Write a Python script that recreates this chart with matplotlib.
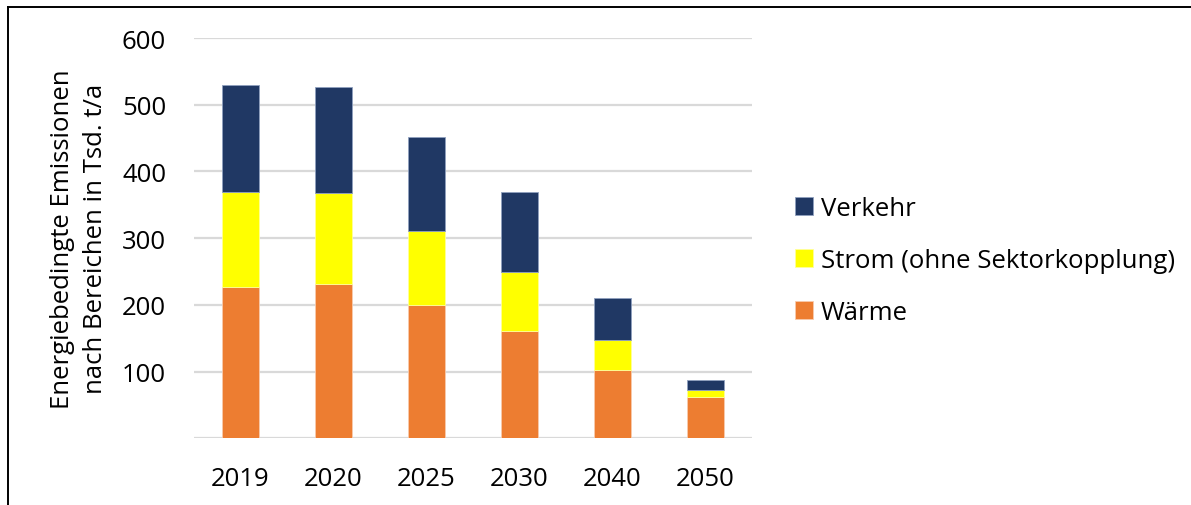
import matplotlib
matplotlib.use("Agg")
import matplotlib.pyplot as plt
from matplotlib.lines import Line2D
import numpy as np

years = ["2019", "2020", "2025", "2030", "2040", "2050"]
waerme = [227, 231, 200, 161, 102, 62]
strom = [142, 137, 111, 88, 45, 10]
verkehr = [161, 158, 141, 120, 63, 16]

plt.rcParams["font.family"] = ["Open Sans", "DejaVu Sans"]
FS = 18.5

fig = plt.figure(figsize=(11.91, 5.06), dpi=100)
ax = fig.add_axes([0.1629, 0.1318, 0.4685, 0.7911])

x = np.arange(len(years))
w = 0.4
b1 = ax.bar(x, waerme, w, color="#ED7D31", edgecolor="#F8CBAD", linewidth=0.6, label="Wärme", zorder=3)
b2 = ax.bar(x, strom, w, bottom=waerme, color="#FFFF00", edgecolor="#FFFF99", linewidth=0.6,
            label="Strom (ohne Sektorkopplung)", zorder=3)
bottom2 = np.array(waerme) + np.array(strom)
b3 = ax.bar(x, verkehr, w, bottom=bottom2, color="#203864", edgecolor="#8FA0BF", linewidth=0.6,
            label="Verkehr", zorder=3)

ax.set_xlim(-0.5, len(years) - 0.5)
ax.set_ylim(0, 600)
ax.set_yticks([0, 100, 200, 300, 400, 500, 600])
ax.set_yticklabels(["", "100", "200", "300", "400", "500", "600"])
ax.set_xticks(x)
ax.set_xticklabels(years)
ax.tick_params(axis="both", length=0, labelsize=FS, colors="#000000")
ax.tick_params(axis="x", pad=20)
ax.tick_params(axis="y", pad=20)
ax.yaxis.grid(True, color="#D9D9D9", linewidth=1.6, zorder=0)
for s in ax.spines.values():
    s.set_visible(False)

ax.set_ylabel("Energiebedingte Emissionen\nnach Bereichen in Tsd. t/a", fontsize=FS, labelpad=10,
              linespacing=1.4)

handles = [b3, b2, b1]
leg = fig.legend(handles=handles, labels=[h.get_label() for h in handles],
                 loc="center left", bbox_to_anchor=(0.659, 0.484), frameon=False,
                 fontsize=FS, handlelength=0.7, handleheight=0.7, handletextpad=0.3,
                 labelspacing=1.05, borderaxespad=0)

# outer frame (top and left edge visible)
fig.add_artist(Line2D([8 / 1191, 8 / 1191], [0, 1 - 8 / 506], color="black", linewidth=1.4,
                      transform=fig.transFigure))
fig.add_artist(Line2D([8 / 1191, 1], [1 - 8 / 506, 1 - 8 / 506], color="black", linewidth=1.4,
                      transform=fig.transFigure))

fig.savefig("out.png", dpi=100)
